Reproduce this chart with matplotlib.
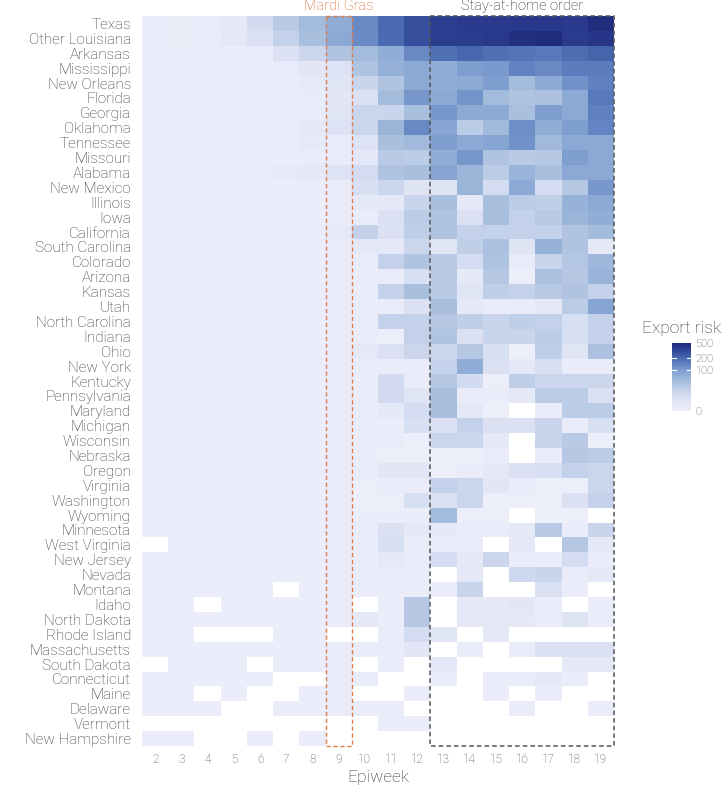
import numpy as np
import matplotlib
matplotlib.use("Agg")
import matplotlib.pyplot as plt
from matplotlib.colors import LinearSegmentedColormap, Normalize
from matplotlib.patches import Rectangle
import matplotlib.transforms as mtransforms

nan = np.nan
b = 0.5

epiweeks = list(range(2, 20))

states = ["Texas", "Other Louisiana", "Arkansas", "Mississippi", "New Orleans",
          "Florida", "Georgia", "Oklahoma", "Tennessee", "Missouri", "Alabama",
          "New Mexico", "Illinois", "Iowa", "California", "South Carolina",
          "Colorado", "Arizona", "Kansas", "Utah", "North Carolina", "Indiana",
          "Ohio", "New York", "Kentucky", "Pennsylvania", "Maryland", "Michigan",
          "Wisconsin", "Nebraska", "Oregon", "Virginia", "Washington", "Wyoming",
          "Minnesota", "West Virginia", "New Jersey", "Nevada", "Montana", "Idaho",
          "North Dakota", "Rhode Island", "Massachusetts", "South Dakota",
          "Connecticut", "Maine", "Delaware", "Vermont", "New Hampshire"]

# export risk per epiweek 2..19 (nan = no data)
texas           = [0.5, 0.7, 1.5, 4, 15, 32, 50, 72, 130, 200, 285, 360, 385, 385, 390, 390, 385, 480]
other_louisiana = [0.5, 0.7, 1.5, 5, 10, 25, 45, 78, 125, 200, 290, 360, 370, 400, 450, 490, 380, 420]
arkansas        = [b, b, b, b, 1, 10, 20, 38, 50, 72, 130, 185, 210, 185, 175, 165, 195, 220]
mississippi     = [b, b, b, b, b, 2, 6, 9, 38, 65, 77, 70, 95, 100, 140, 130, 155, 155]
new_orleans     = [b, b, b, b, b, b, 3, 7, 22, 38, 75, 70, 77, 95, 49, 77, 115, 145]
florida         = [b, b, b, b, b, 1, 2, 6, 10, 49, 105, 75, 110, 49, 38, 42, 77, 165]
georgia         = [b, b, b, b, b, 1, 2, 7, 20, 22, 45, 105, 75, 75, 45, 95, 78, 145]
oklahoma        = [b, b, b, b, b, 1, 4, 9, 20, 58, 130, 85, 30, 52, 120, 70, 95, 135]
tennessee       = [b, b, b, b, b, 1, 3, 2, 9, 45, 52, 95, 78, 85, 115, 52, 78, 78]
missouri        = [b, b, b, b, b, b, 1, 2, 5, 32, 30, 70, 105, 38, 32, 35, 95, 78]
alabama         = [b, b, b, b, b, 3, 4, 9, 14, 38, 45, 85, 58, 30, 60, 45, 78, 78]
new_mexico      = [b, b, b, b, b, b, 1, 1, 12, 20, 8, 8, 58, 14, 78, 14, 35, 105]
illinois        = [b, b, b, b, b, b, b, 1, 4, 4, 22, 45, 4, 45, 30, 27, 62, 78]
iowa            = [b, b, b, b, b, b, b, 1, 1, 10, 30, 38, 10, 45, 25, 32, 58, 70]
california      = [b, b, b, b, b, b, 1, 4, 25, 10, 27, 38, 25, 25, 25, 25, 38, 49]
south_carolina  = [b, b, b, b, b, b, b, 1, 4, 4, 20, 7, 27, 42, 8, 62, 38, 4]
colorado        = [b, b, b, b, b, b, b, 1, 1, 25, 38, 32, 14, 40, 2, 22, 36, 55]
arizona         = [b, b, b, b, b, b, b, 1, 1, 1, 12, 32, 4, 35, 0.3, 42, 35, 60]
kansas          = [b, b, b, b, b, b, b, 1, 1, 25, 45, 32, 7, 27, 25, 32, 38, 25]
utah            = [b, b, b, b, b, b, b, 1, 1, 1, 10, 45, 4, 1, 1, 4, 30, 85]
north_carolina  = [b, b, b, b, b, b, b, 1, 1, 25, 25, 35, 27, 22, 27, 25, 12, 25]
indiana         = [b, b, b, b, b, b, b, 1, 1, 0.3, 25, 38, 10, 22, 22, 30, 12, 25]
ohio            = [b, b, b, b, b, b, b, 1, 4, 10, 20, 20, 35, 12, 0.3, 27, 7, 42]
new_york        = [b, b, b, b, b, b, b, 1, 1, 1, 1, 25, 72, 10, 4, 12, 1, 1]
kentucky        = [b, b, b, b, b, b, b, 1, 1, 15, 1, 35, 15, 0.3, 27, 20, 20, 20]
pennsylvania    = [b, b, b, b, b, b, b, 1, 1, 16, 7, 45, 1, 1, 4, 30, 30, 10]
maryland        = [b, b, b, b, b, b, b, 1, 1, 4, 14, 45, 4, 0.3, nan, 1, 30, 30]
michigan        = [b, b, b, b, b, b, b, 1, 1, 1, 12, 10, 25, 10, 10, 22, 1, 12]
wisconsin       = [b, b, b, b, b, b, b, 1, 1, 1, 0.3, 20, 20, 4, nan, 22, 32, 0.3]
nebraska        = [b, b, b, b, b, b, b, 1, 1, 0.3, 0.3, 0.3, 0.3, 1, nan, 1, 35, 30]
oregon          = [b, b, b, b, b, b, b, 1, 1, 6, 6, 0.3, 1, 4, 10, 12, 25, 20]
virginia        = [b, b, b, b, b, b, b, 1, 0.3, 1, 1, 25, 20, 6, 1, 0.3, 0.3, 20]
washington      = [b, b, b, b, b, b, b, 1, 0.3, 0.3, 12, 10, 20, 0.3, 0.3, 0.3, 10, 25]
wyoming         = [b, b, b, b, b, b, b, 1, 0.5, 0.5, 0.5, 49, 0.3, 0.3, nan, 0.3, 0.3, nan]
minnesota       = [b, b, b, b, b, b, b, 1, 1, 10, 4, 4, 1, 1, 4, 32, 1, 22]
west_virginia   = [nan, b, b, b, b, b, b, 1, 1, 12, 1, 1, 1, nan, 4, nan, 35, 4]
new_jersey      = [b, b, b, b, b, b, b, 1, 1, 4, 1, 14, 4, 20, 1, 1, 14, 1]
nevada          = [b, b, b, b, b, b, b, 1, 1, 1, 1, nan, 4, nan, 18, 22, 1, 4]
montana         = [b, b, b, b, b, nan, b, 1, 1, 1, 1, 1, 22, nan, nan, 10, 1, nan]
idaho           = [b, b, nan, b, b, b, b, 1, nan, 1, 35, nan, 4, 4, 6, 1, nan, 1]
north_dakota    = [b, b, b, b, b, b, b, 1, 4, 1, 35, nan, 4, 4, 4, 1, 8, 1]
rhode_island    = [b, b, nan, nan, nan, b, b, nan, nan, 1, 14, 7, nan, 4, nan, nan, nan, nan]
massachusetts   = [b, b, b, b, b, b, b, 1, 1, 1, 6, nan, 1, nan, 1, 10, 10, 10]
south_dakota    = [nan, b, b, b, nan, b, b, 1, nan, 1, nan, 4, nan, nan, nan, nan, 4, 4]
connecticut     = [b, b, b, b, b, nan, nan, 1, 1, nan, nan, 1, nan, 1, 1, 4, 1, nan]
maine           = [b, b, nan, b, nan, nan, b, 1, nan, nan, 1, nan, nan, 1, nan, 1, nan, nan]
delaware        = [b, b, b, nan, nan, b, b, 1, 1, 1, nan, nan, nan, nan, 1, nan, nan, 1]
vermont         = [nan, nan, nan, nan, nan, nan, nan, nan, nan, 1, 1, nan, nan, nan, nan, nan, nan, nan]
new_hampshire   = [b, b, nan, nan, b, nan, b, nan, nan, nan, nan, nan, nan, nan, nan, nan, nan, nan]

rows = [texas, other_louisiana, arkansas, mississippi, new_orleans, florida, georgia,
        oklahoma, tennessee, missouri, alabama, new_mexico, illinois, iowa, california,
        south_carolina, colorado, arizona, kansas, utah, north_carolina, indiana, ohio,
        new_york, kentucky, pennsylvania, maryland, michigan, wisconsin, nebraska, oregon,
        virginia, washington, wyoming, minnesota, west_virginia, new_jersey, nevada,
        montana, idaho, north_dakota, rhode_island, massachusetts, south_dakota,
        connecticut, maine, delaware, vermont, new_hampshire]

cbar_ticks = [0, 100, 200, 500]
vmax = 500

def fwd(x):
    return np.log1p(np.asarray(x, dtype=float) / 10.0)

data = np.array(rows, dtype=float)
tdata = np.ma.masked_invalid(fwd(data))

cmap = LinearSegmentedColormap.from_list("exp", [
    (0.00, "#eceefa"),
    (0.15, "#dfe4f5"),
    (0.30, "#c8d4ec"),
    (0.45, "#a4bcdc"),
    (0.58, "#84a4d2"),
    (0.70, "#5f80c0"),
    (0.80, "#4464ac"),
    (0.90, "#2f4496"),
    (1.00, "#1f2a7c"),
])
cmap.set_bad("white")
norm = Normalize(vmin=0, vmax=float(fwd(vmax)))

W, H = 727, 785
fig = plt.figure(figsize=(W / 100, H / 100), dpi=100)
ax = fig.add_axes([142 / W, 1 - 746 / H, 472 / W, 730 / H])

nr, nc = data.shape
ax.pcolormesh(np.arange(nc + 1), np.arange(nr + 1), tdata, cmap=cmap, norm=norm,
              edgecolor="none", antialiased=False)
ax.set_xlim(0, nc)
ax.set_ylim(nr, 0)
for s in ax.spines.values():
    s.set_visible(False)

txt = "#333333"
font = "Roboto"
fw = "light"
ax.set_xticks(np.arange(nc) + 0.5)
ax.set_xticklabels([str(w) for w in epiweeks], fontsize=8.5, color="#4d4d4d",
                   family=font, fontweight=fw)
ax.set_yticks(np.arange(nr) + 0.5)
ax.set_yticklabels(states, fontsize=11, color=txt, family=font, fontweight=fw)
ax.tick_params(length=0, pad=5)
ax.tick_params(axis="y", pad=8)
ax.set_xlabel("Epiweek", fontsize=12.5, color=txt, family=font, fontweight=fw, labelpad=3)

# Mardi Gras box (epiweek 9)
mg = epiweeks.index(9)
ax.add_patch(Rectangle((mg, 0), 1, nr, fill=False, edgecolor="#e07b4a",
                       linestyle=(0, (3, 2)), linewidth=1.0, clip_on=False))
# Stay-at-home box (epiweeks 13-19)
sh0 = epiweeks.index(13)
sh1 = epiweeks.index(19) + 1
ax.add_patch(Rectangle((sh0, 0), sh1 - sh0, nr, fill=False, edgecolor="#555555",
                       linestyle=(0, (3, 2)), linewidth=1.1, clip_on=False))

off = mtransforms.offset_copy(ax.transData, fig=fig, y=2, units="points")
ax.text(mg + 0.5, 0, "Mardi Gras", ha="center", va="bottom", fontsize=10.5,
        color="#d9642c", family=font, fontweight=fw, transform=off)
ax.text((sh0 + sh1) / 2, 0, "Stay-at-home order", ha="center", va="bottom",
        fontsize=10.5, color="#222222", family=font, fontweight=fw, transform=off)

# colorbar
cax = fig.add_axes([672 / W, 1 - 411 / H, 19 / W, 68 / H])
grad = np.linspace(0, float(fwd(vmax)), 256).reshape(-1, 1)
cax.imshow(grad, aspect="auto", cmap=cmap, norm=norm, origin="lower",
           extent=[0, 1, 0, float(fwd(vmax))])
cax.set_xlim(0, 1)
cax.set_ylim(0, float(fwd(vmax)))
for s in cax.spines.values():
    s.set_visible(False)
cax.set_xticks([])
tpos = [float(fwd(t)) for t in cbar_ticks]
cax.yaxis.tick_right()
cax.set_yticks(tpos)
cax.set_yticklabels([str(t) for t in cbar_ticks], fontsize=8, color="#4d4d4d",
                    family=font, fontweight=fw)
cax.tick_params(length=0, pad=3)
for tp in tpos[1:-1]:
    cax.plot([0, 0.2], [tp, tp], color="white", lw=0.8)
    cax.plot([0.8, 1], [tp, tp], color="white", lw=0.8)
fig.text(642 / W, 1 - 328 / H, "Export risk", ha="left", va="center",
         fontsize=12.5, color=txt, family=font, fontweight=fw)

fig.savefig("out.png", dpi=100, facecolor="white")
